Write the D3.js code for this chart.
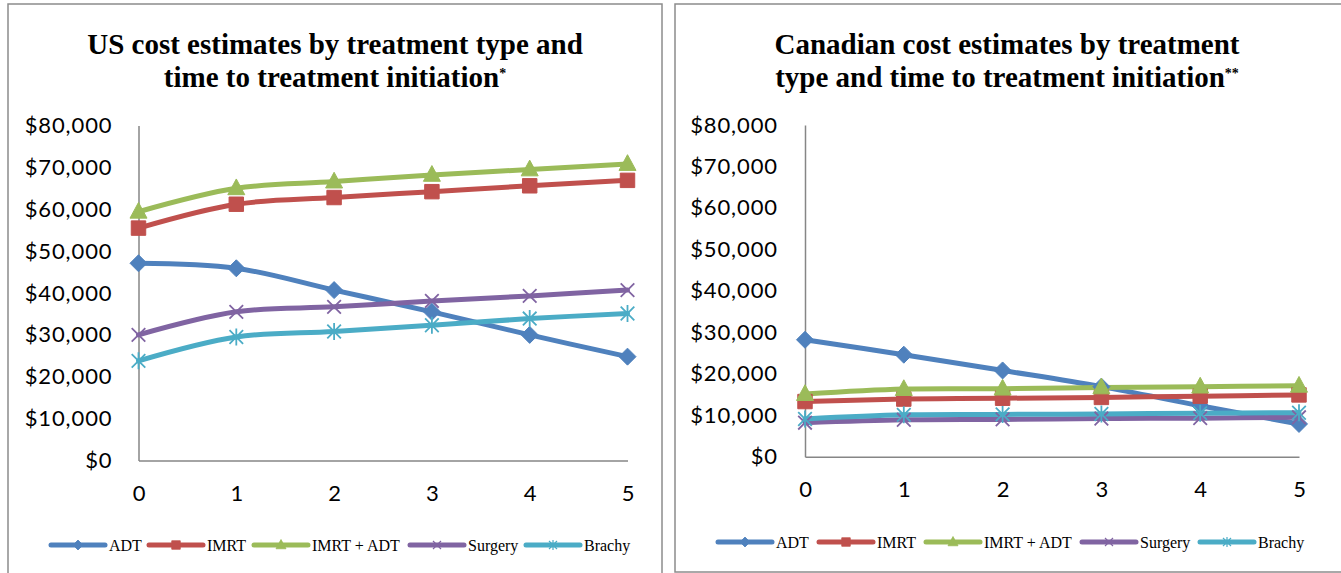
<!DOCTYPE html>
<html><head><meta charset="utf-8">
<script src="https://cdn.jsdelivr.net/npm/d3@7"></script>
<style>body{margin:0;background:#fff;} svg{display:block;}</style>
</head><body>
<svg id="c" width="1341" height="573"></svg>
<script>
const years = [0, 1, 2, 3, 4, 5];
const seriesNames = ["ADT", "IMRT", "IMRT + ADT", "Surgery", "Brachy"];
const yTicks = [0, 10000, 20000, 30000, 40000, 50000, 60000, 70000, 80000];

const usADT      = [47100, 45900, 40700, 35500, 30000, 24800];
const usIMRT     = [55500, 61200, 62800, 64200, 65600, 66900];
const usIMRTADT  = [59400, 65000, 66600, 68200, 69500, 70800];
const usSurgery  = [30000, 35500, 36700, 38100, 39300, 40700];
const usBrachy   = [23800, 29500, 30800, 32300, 33900, 35100];

const caADT      = [28200, 24600, 20800, 16900, 12300, 7900];
const caIMRT     = [13300, 13900, 14100, 14300, 14600, 14900];
const caIMRTADT  = [15100, 16300, 16400, 16700, 16900, 17100];
const caSurgery  = [8200, 8900, 9000, 9200, 9300, 9500];
const caBrachy   = [9100, 10100, 10200, 10300, 10500, 10600];

const colors = ["#4F81BD", "#C0504D", "#9BBB59", "#8064A2", "#4BACC6"];
const markers = ["diamond", "square", "triangle", "x", "star"];

const svg = d3.select("#c");

function markerPath(type, s) {
  switch (type) {
    case "diamond": return `M0,${-s}L${s},0L0,${s}L${-s},0Z`;
    case "square": { const h = s*0.85; return `M${-h},${-h}H${h}V${h}H${-h}Z`; }
    case "triangle": return `M0,${-s*1.1}L${s},${s*0.75}L${-s},${s*0.75}Z`;
    case "x": { const h = s*0.8; return `M${-h},${-h}L${h},${h}M${h},${-h}L${-h},${h}`; }
    case "star": { const h = s*0.8; return `M${-h},${-h}L${h},${h}M${h},${-h}L${-h},${h}M0,${-s}V${s}`; }
  }
}

function drawPanel(cfg) {
  const g = svg.append("g");
  g.append("rect").attr("x", cfg.bx).attr("y", cfg.by).attr("width", cfg.bw).attr("height", cfg.bh)
    .attr("fill", "none").attr("stroke", "#8c8c8c").attr("stroke-width", 1.5);

  [[cfg.title1, cfg.ty1, ""], [cfg.title2, cfg.ty2, cfg.sup]].forEach(([txt, ty, sup]) => {
    const t = g.append("text").attr("x", cfg.tx).attr("y", ty).attr("text-anchor", "middle")
      .attr("font-family", "'Liberation Serif','Times New Roman',serif").attr("font-weight", "bold")
      .attr("font-size", 29).attr("fill", "#000");
    t.append("tspan").text(txt);
    if (sup) t.append("tspan").attr("font-size", 14).attr("dy", -9).text(sup);
  });

  const x = d3.scaleLinear().domain([0, 5]).range([cfg.x0, cfg.x1]);
  const y = d3.scaleLinear().domain([0, 80000]).range([cfg.y0, cfg.y1]);

  const ya = g.append("g").attr("transform", `translate(${cfg.x0},0)`)
    .call(d3.axisLeft(y).tickValues(yTicks).tickSize(0).tickPadding(cfg.ypad)
      .tickFormat(d => "$" + d3.format(",")(d)));
  ya.select(".domain").attr("stroke", "#868686").attr("stroke-width", 1.5);
  ya.selectAll("text").attr("font-family", "Lato, 'Open Sans', sans-serif").attr("font-size", 22)
    .attr("letter-spacing", 0.9).attr("fill", "#000");

  const xa = g.append("g").attr("transform", `translate(0,${cfg.y0})`)
    .call(d3.axisBottom(x).tickValues(years).tickSize(0).tickPadding(cfg.xpad).tickFormat(d3.format("d")));
  xa.select(".domain").attr("stroke", "#868686").attr("stroke-width", 1.5);
  xa.selectAll("text").attr("font-family", "Lato, 'Open Sans', sans-serif").attr("font-size", 22).attr("fill", "#000");

  const line = d3.line().x((d, i) => x(years[i])).y(d => y(d)).curve(d3.curveCatmullRom.alpha(0.5));

  cfg.data.forEach((vals, k) => {
    g.append("path").attr("d", line(vals)).attr("fill", "none")
      .attr("stroke", colors[k]).attr("stroke-width", 5).attr("stroke-linejoin", "round").attr("stroke-linecap", "round");
  });
  cfg.data.forEach((vals, k) => {
    const filled = markers[k] === "diamond" || markers[k] === "square" || markers[k] === "triangle";
    g.selectAll(null).data(vals).enter().append("path")
      .attr("transform", (d, i) => `translate(${x(years[i])},${y(d)})`)
      .attr("d", markerPath(markers[k], 8.5))
      .attr("fill", filled ? colors[k] : "none")
      .attr("stroke", colors[k]).attr("stroke-width", filled ? 1 : 1.8);
  });

  const lg = g.append("g");
  seriesNames.forEach((n, k) => {
    const lx = cfg.legX[k];
    lg.append("line").attr("x1", lx).attr("x2", lx + 54).attr("y1", cfg.legY).attr("y2", cfg.legY)
      .attr("stroke", colors[k]).attr("stroke-width", 5).attr("stroke-linecap", "round");
    const filled = markers[k] === "diamond" || markers[k] === "square" || markers[k] === "triangle";
    lg.append("path").attr("transform", `translate(${lx + 27},${cfg.legY})`)
      .attr("d", markerPath(markers[k], 5)).attr("fill", filled ? colors[k] : "none")
      .attr("stroke", colors[k]).attr("stroke-width", filled ? 0.8 : 1.2);
    lg.append("text").attr("x", lx + 58).attr("y", cfg.legY).attr("dy", "0.35em")
      .attr("font-family", "'Liberation Serif','Times New Roman',serif").attr("font-size", 16).attr("fill", "#000").text(n);
  });
}

drawPanel({
  bx: 8, by: 4, bw: 654, bh: 580,
  title1: "US cost estimates by treatment type and", title2: "time to treatment initiation", sup: "*",
  tx: 335, ty1: 54, ty2: 87,
  x0: 138.5, x1: 627.5, y0: 460.5, y1: 125.5, ypad: 26, xpad: 25,
  data: [usADT, usIMRT, usIMRTADT, usSurgery, usBrachy],
  legX: [51, 149, 254, 410, 526], legY: 545
});
drawPanel({
  bx: 675, by: 4, bw: 680, bh: 568,
  title1: "Canadian cost estimates by treatment", title2: "type and time to treatment initiation", sup: "**",
  tx: 1007, ty1: 54, ty2: 87,
  x0: 805, x1: 1299, y0: 456.7, y1: 125, ypad: 27, xpad: 25,
  data: [caADT, caIMRT, caIMRTADT, caSurgery, caBrachy],
  legX: [718, 819, 926, 1082, 1200], legY: 542
});
</script>
</body></html>
